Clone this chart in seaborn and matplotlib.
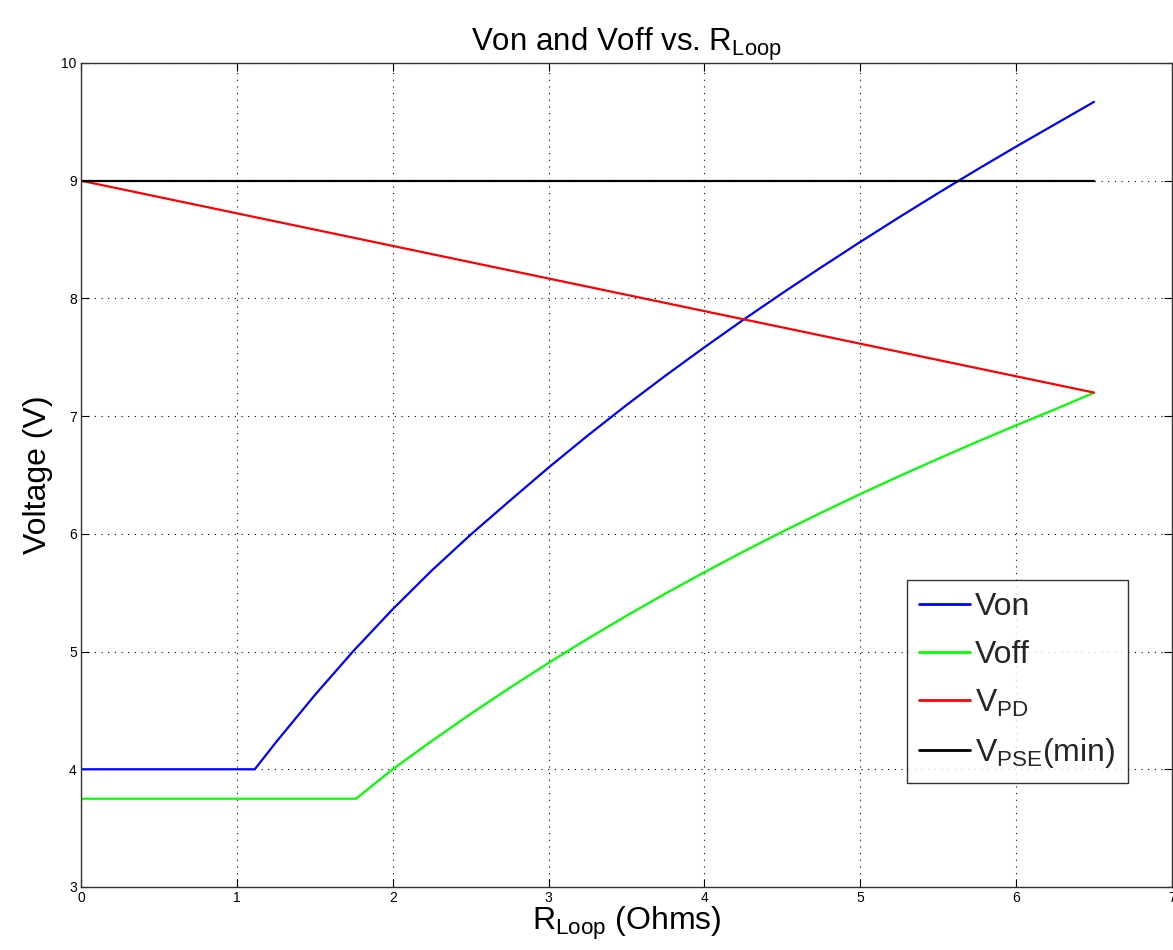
import numpy as np
import pandas as pd
import matplotlib
matplotlib.use("Agg")
import matplotlib.pyplot as plt
import seaborn as sns

# ---- data ----
von_x = [0.0, 1.115, 1.25, 1.5, 1.75, 2.0, 2.25, 2.5, 2.75, 3.0, 3.25, 3.5, 3.75,
         4.0, 4.25, 4.5, 4.75, 5.0, 5.25, 5.5, 5.75, 6.0, 6.25, 6.5]
von_y = [4.0, 4.0, 4.228, 4.63, 5.008, 5.36, 5.688, 5.993, 6.28, 6.563, 6.834, 7.094, 7.344,
         7.585, 7.819, 8.045, 8.265, 8.48, 8.69, 8.895, 9.095, 9.29, 9.48, 9.67]

voff_x = [0.0, 1.765, 2.0, 2.25, 2.5, 2.75, 3.0, 3.25, 3.5, 3.75, 4.0, 4.25,
          4.5, 4.75, 5.0, 5.25, 5.5, 5.75, 6.0, 6.25, 6.5]
voff_y = [3.75, 3.75, 4.0, 4.24, 4.47, 4.691, 4.904, 5.108, 5.304, 5.493, 5.674, 5.849,
          6.018, 6.18, 6.338, 6.49, 6.638, 6.782, 6.922, 7.058, 7.2]

vpd_x = [0.0, 6.5]
vpd_y = [9.0, 7.2]

vpse_x = [0.0, 6.5]
vpse_y = [9.0, 9.0]

labels = ["Von", "Voff", r"$V_{PD}$", r"$V_{PSE}$(min)"]
colors = ["#0000ff", "#00ff00", "#ff0000", "#000000"]

x_ticks = [0, 1, 2, 3, 4, 5, 6, 7]
y_ticks = [3, 4, 5, 6, 7, 8, 9, 10]

sns.set_theme(style="white")
plt.rcParams["font.family"] = ["Liberation Sans", "DejaVu Sans"]
plt.rcParams["mathtext.fontset"] = "custom"
plt.rcParams["mathtext.rm"] = "Liberation Sans"
plt.rcParams["mathtext.it"] = "Liberation Sans"
plt.rcParams["mathtext.bf"] = "Liberation Sans:bold"

fig = plt.figure(figsize=(11.73, 9.5), dpi=100)
ax = fig.add_axes([81 / 1173, 63 / 950, 1091 / 1173, 824 / 950])

series = [(von_x, von_y), (voff_x, voff_y), (vpd_x, vpd_y), (vpse_x, vpse_y)]
for (xs, ys), lab, col in zip(series, labels, colors):
    sns.lineplot(x=xs, y=ys, ax=ax, color=col, linewidth=1.6, label=lab,
                 sort=False, estimator=None)

ax.set_xlim(0, 7)
ax.set_ylim(3, 10)
ax.set_xticks(x_ticks)
ax.set_yticks(y_ticks)
ax.set_xticklabels([str(t) for t in x_ticks])
ax.set_yticklabels([str(t) for t in y_ticks])
ax.tick_params(axis="both", which="both", direction="in", length=6, width=0.8,
               top=True, right=True, bottom=True, left=True, labelsize=10,
               colors="black", pad=3)
ax.grid(True, color="black", linestyle=(0, (1, 5)), linewidth=0.8)
for s in ax.spines.values():
    s.set_visible(True)
    s.set_color("#333333")
    s.set_linewidth(1.0)

ax.set_title(r"Von and Voff vs. R$_{Loop}$", fontsize=22.5, pad=7, color="black")
ax.set_xlabel(r"R$_{Loop}$ (Ohms)", fontsize=23, labelpad=0, color="black")
ax.set_ylabel("Voltage (V)", fontsize=23, labelpad=6, color="black")

leg = ax.legend(loc="lower right", bbox_to_anchor=(0.9597, 0.1262),
                fontsize=23, frameon=True, fancybox=False,
                handlelength=1.6, handletextpad=0.15, borderpad=0.4,
                labelspacing=0.55, borderaxespad=0)
leg.get_frame().set_edgecolor("black")
leg.get_frame().set_linewidth(1.0)
for h in leg.get_lines():
    h.set_linewidth(2.0)

fig.savefig("out.png", dpi=100, facecolor="white")
